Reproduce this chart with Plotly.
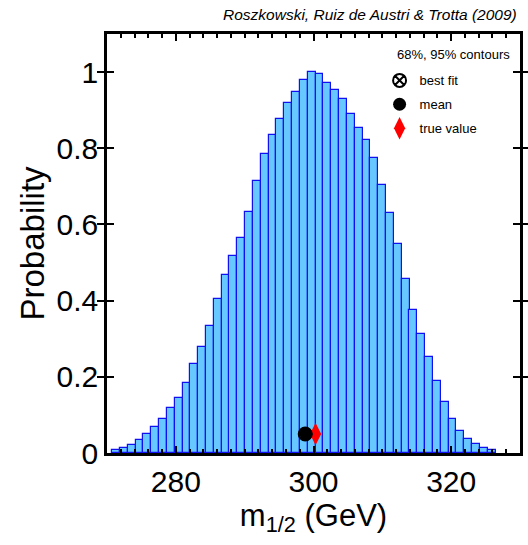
import plotly.graph_objects as go

# Marginal posterior of m_1/2: bin centres (GeV) and normalised probability
bin_centers = [
    271.31, 272.45, 273.58, 274.72, 275.86, 276.99, 278.13, 279.27, 280.40, 281.54,
    282.68, 283.82, 284.95, 286.09, 287.23, 288.36, 289.50, 290.64, 291.77, 292.91,
    294.05, 295.19, 296.32, 297.46, 298.60, 299.73, 300.87, 302.01, 303.14, 304.28,
    305.42, 306.56, 307.69, 308.83, 309.97, 311.10, 312.24, 313.38, 314.51, 315.65,
    316.79, 317.93, 319.06, 320.20, 321.34, 322.47, 323.61, 324.75, 325.88,
]
probability = [
    0.009, 0.013, 0.022, 0.035, 0.051, 0.068, 0.090, 0.117, 0.144, 0.183,
    0.233, 0.278, 0.334, 0.404, 0.467, 0.517, 0.564, 0.633, 0.714, 0.785,
    0.836, 0.877, 0.918, 0.948, 0.980, 1.000, 0.996, 0.972, 0.954, 0.930,
    0.891, 0.852, 0.822, 0.774, 0.704, 0.629, 0.548, 0.457, 0.376, 0.312,
    0.252, 0.189, 0.133, 0.089, 0.058, 0.036, 0.023, 0.014, 0.009,
]
bin_width = 1.137

# Point estimates (GeV) drawn near the bottom of the panel
best_fit_x = 298.8
mean_x = 298.9
true_value_x = 300.3
marker_level = 0.05

x_range = [270, 330]
x_ticks = [280, 300, 320]
y_ticks = [0, 0.2, 0.4, 0.6, 0.8, 1]
y_tick_labels = ["0", "0.2", "0.4", "0.6", "0.8", "1"]

FONT = "Liberation Sans, Arial, Helvetica, sans-serif"

fig = go.Figure()

fig.add_trace(go.Bar(
    x=bin_centers, y=probability, width=bin_width,
    marker=dict(color="#66C8FF", line=dict(color="#1010F0", width=1.2)),
    showlegend=False, hoverinfo="skip",
))

fig.add_trace(go.Scatter(
    x=[true_value_x], y=[marker_level], mode="markers", name="true value",
    marker=dict(symbol="diamond-tall", size=16, color="red"),
    legendgroup="c", legendrank=3,
))
fig.add_trace(go.Scatter(
    x=[mean_x], y=[marker_level], mode="markers", name="mean",
    marker=dict(symbol="circle", size=13, color="black"),
    legendgroup="b", legendrank=2,
))
fig.add_trace(go.Scatter(
    x=[best_fit_x], y=[marker_level], mode="markers", name="best fit",
    marker=dict(symbol="circle-x-open", size=13, color="black",
                line=dict(color="black", width=2)),
    legendgroup="a", legendrank=1,
))

axis_common = dict(
    showline=True, linecolor="black", linewidth=2.5, mirror="allticks",
    ticks="inside", tickcolor="black", tickwidth=2, ticklen=7,
    showgrid=False, zeroline=False,
    tickfont=dict(family=FONT, size=30, color="black"),
)
minor_x = dict(dtick=2, tick0=270, ticks="inside", ticklen=4,
               tickwidth=2, tickcolor="black")

fig.update_layout(
    width=528, height=545,
    margin=dict(l=107, r=5, t=34, b=92),
    paper_bgcolor="white", plot_bgcolor="white",
    bargap=0,
    font=dict(family=FONT, color="black"),
    xaxis=dict(
        range=x_range, tickvals=x_ticks, minor=minor_x,
        title=dict(text="m<sub>1/2</sub> (GeV)",
                   font=dict(family=FONT, size=31), standoff=8),
        **axis_common,
    ),
    # tick marks along the top frame edge
    xaxis2=dict(
        range=x_range, tickvals=x_ticks, minor=minor_x, overlaying="x",
        side="top", showticklabels=False, showline=False,
        ticks="inside", tickcolor="black", tickwidth=2, ticklen=7,
        showgrid=False, zeroline=False, anchor="y",
    ),
    yaxis=dict(
        range=[0, 1.1], tickvals=y_ticks, ticktext=y_tick_labels,
        title=dict(text="Probability", font=dict(family=FONT, size=33), standoff=2),
        **axis_common,
    ),
    legend=dict(
        x=0.66, y=0.925, xanchor="left", yanchor="top",
        bgcolor="rgba(0,0,0,0)", borderwidth=0,
        font=dict(family=FONT, size=13, color="black"),
        tracegroupgap=4, itemclick=False,
    ),
    annotations=[
        dict(text="<i>Roszkowski, Ruiz de Austri &amp; Trotta (2009)</i>",
             xref="paper", yref="paper", x=0.998, y=1.0, xanchor="right",
             yanchor="middle", yshift=20, showarrow=False,
             font=dict(family=FONT, size=15.5, color="black")),
        dict(text="68%, 95% contours", xref="paper", yref="paper",
             x=0.981, y=0.95, xanchor="right", yanchor="middle",
             showarrow=False, font=dict(family=FONT, size=13, color="black")),
    ],
)

# an empty trace keeps the top axis drawn
fig.add_trace(go.Scatter(x=[None], y=[None], xaxis="x2", yaxis="y",
                         showlegend=False, hoverinfo="skip"))

fig.write_html("out.html")
